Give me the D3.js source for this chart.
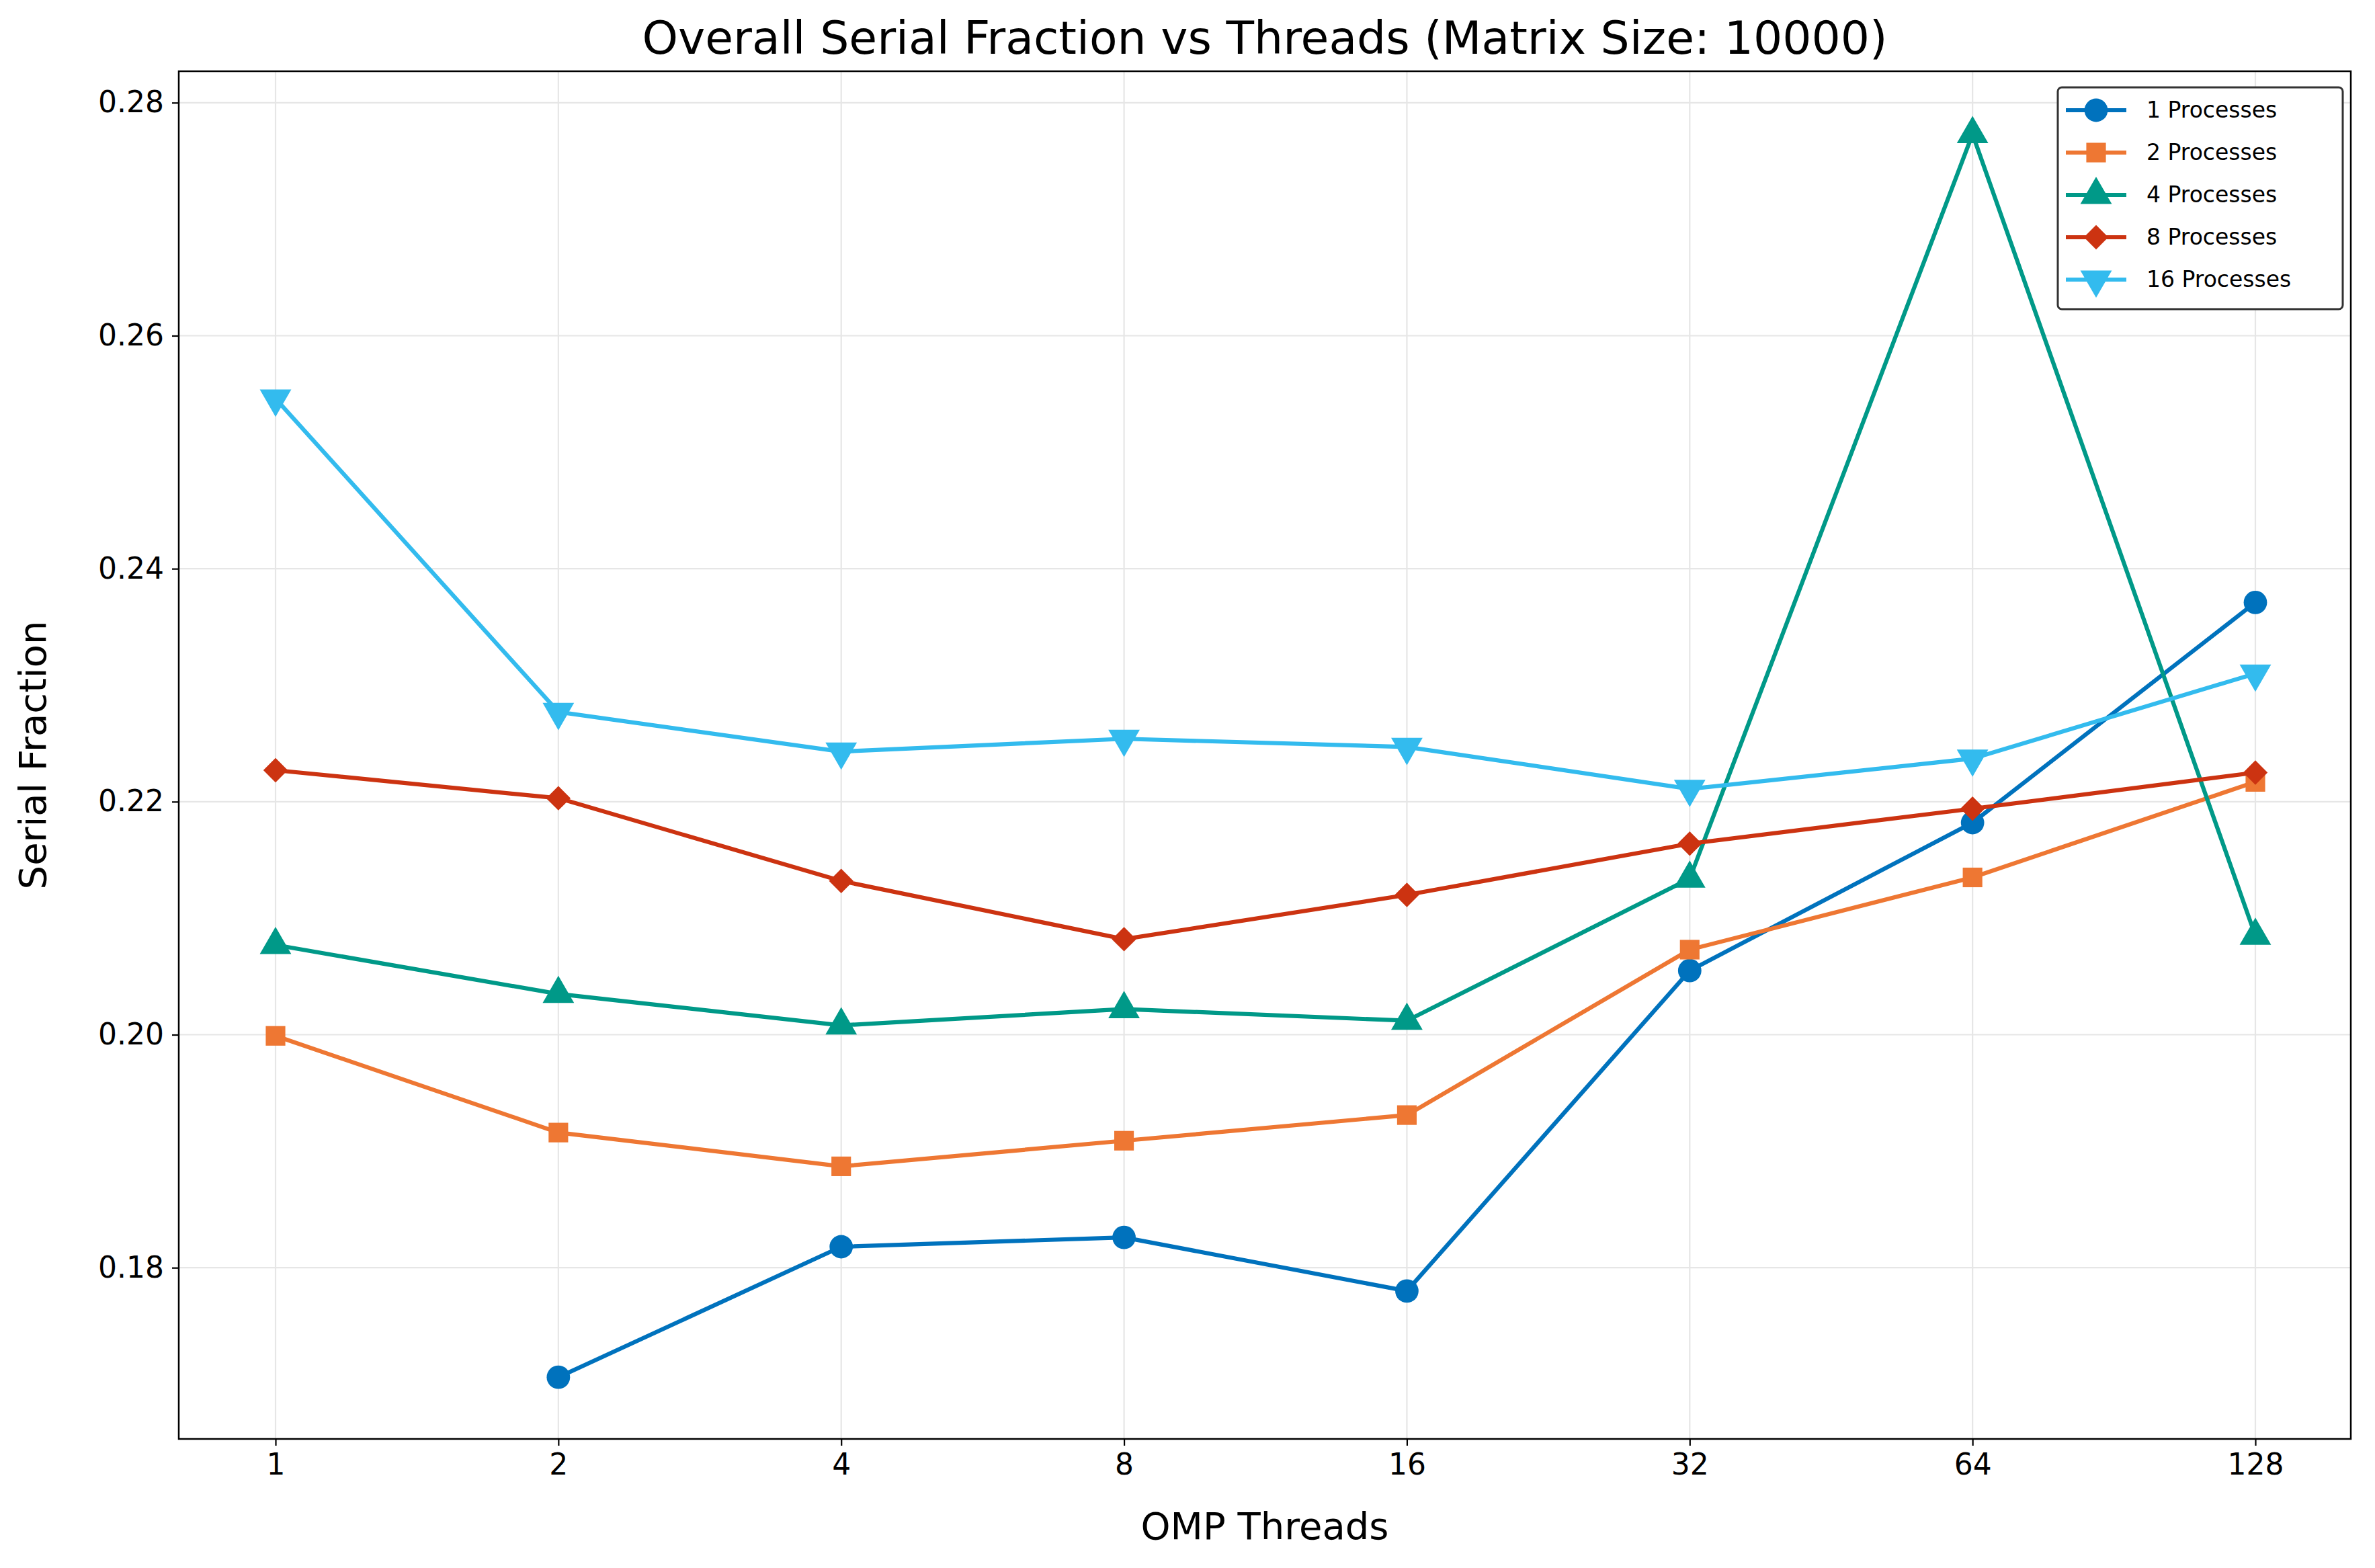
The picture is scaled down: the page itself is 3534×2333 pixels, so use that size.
<!DOCTYPE html><html><head><script src="https://cdn.jsdelivr.net/npm/d3@7"></script>
<style>body{margin:0;background:#fff}text{font-family:"DejaVu Sans",sans-serif}</style></head><body>
<svg id="c" width="3534" height="2333"></svg>
<script>
const threads=[1,2,4,8,16,32,64,128];
const yTicks=[0.18,0.20,0.22,0.24,0.26,0.28];
const seriesNames=["1 Processes","2 Processes","4 Processes","8 Processes","16 Processes"];
const p1=[null,0.1706,0.1818,0.1826,0.1780,0.2055,0.2182,0.2371];
const p2=[0.1999,0.1916,0.1887,0.1909,0.1931,0.2073,0.2135,0.2217];
const p4=[0.2077,0.2035,0.2008,0.2022,0.2012,0.2134,0.2773,0.2085];
const p8=[0.2227,0.2203,0.2132,0.2082,0.2120,0.2164,0.2194,0.2225];
const p16=[0.2546,0.2277,0.2243,0.2254,0.2247,0.2211,0.2237,0.2310];
const values=[p1,p2,p4,p8,p16];
const colors=["#0072bd","#ee7733","#009988","#cc3311","#33bbee"];
const diamond={draw(ctx,size){const r=Math.sqrt(size)/2*1.15;ctx.moveTo(0,-r);ctx.lineTo(r,0);ctx.lineTo(0,r);ctx.lineTo(-r,0);ctx.closePath();}};
const symbols=[d3.symbolCircle,d3.symbolSquare,d3.symbolTriangle,diamond,d3.symbolTriangle];
const sizes=[950,850,950,1000,950];
const L=266,R=3498,T=106,B=2141;
const svg=d3.select("#c");
const x=d3.scaleLog().base(2).domain([1,128]).range([410,3356]);
const y=d3.scaleLinear().domain([0.1653,0.2827]).range([B,T]);
const g=svg.append("g");
threads.forEach(t=>g.append("line").attr("x1",x(t)).attr("x2",x(t)).attr("y1",T).attr("y2",B).attr("stroke","#e6e6e6").attr("stroke-width",2.2));
yTicks.forEach(t=>g.append("line").attr("x1",L).attr("x2",R).attr("y1",y(t)).attr("y2",y(t)).attr("stroke","#e6e6e6").attr("stroke-width",2.2));
const xa=svg.append("g").attr("transform",`translate(0,${B})`).call(d3.axisBottom(x).tickValues(threads).tickFormat(d=>d).tickSize(10).tickPadding(12));
const ya=svg.append("g").attr("transform",`translate(${L},0)`).call(d3.axisLeft(y).tickValues(yTicks).tickFormat(d3.format(".2f")).tickSize(10).tickPadding(12));
[xa,ya].forEach(a=>{a.select(".domain").remove();a.selectAll("text").attr("font-size",44).attr("fill","#000");a.selectAll("line").attr("stroke-width",2.2);});
values.forEach((vals,i)=>{
  const pts=threads.map((t,j)=>[t,vals[j]]).filter(d=>d[1]!=null);
  svg.append("path").datum(pts).attr("fill","none").attr("stroke",colors[i]).attr("stroke-width",6.2)
    .attr("d",d3.line().x(d=>x(d[0])).y(d=>y(d[1])));
  pts.forEach(d=>svg.append("path").attr("d",d3.symbol().type(symbols[i]).size(sizes[i])())
    .attr("fill",colors[i]).attr("transform",`translate(${x(d[0])},${y(d[1])})${i==4?" rotate(180)":""}`));
});
svg.append("rect").attr("x",L).attr("y",T).attr("width",R-L).attr("height",B-T).attr("fill","none").attr("stroke","#000").attr("stroke-width",2.5);
svg.append("text").attr("x",(L+R)/2).attr("y",80).attr("text-anchor","middle").attr("font-size",68).text("Overall Serial Fraction vs Threads (Matrix Size: 10000)");
svg.append("text").attr("x",(L+R)/2).attr("y",2290).attr("text-anchor","middle").attr("font-size",56).text("OMP Threads");
svg.append("text").attr("transform",`translate(68,${(T+B)/2}) rotate(-90)`).attr("text-anchor","middle").attr("font-size",56).text("Serial Fraction");
const lg=svg.append("g").attr("transform","translate(3062,130)");
lg.append("rect").attr("width",424).attr("height",330).attr("rx",6).attr("fill","#fff").attr("stroke","#333").attr("stroke-width",3);
seriesNames.forEach((n,i)=>{
  const cy=34+i*63;
  lg.append("line").attr("x1",12).attr("x2",102).attr("y1",cy).attr("y2",cy).attr("stroke",colors[i]).attr("stroke-width",6);
  lg.append("path").attr("d",d3.symbol().type(symbols[i]).size(sizes[i])()).attr("fill",colors[i]).attr("transform",`translate(57,${cy})${i==4?" rotate(180)":""}`);
  lg.append("text").attr("x",132).attr("y",cy+11).attr("font-size",33).text(n);
});
</script></body></html>
